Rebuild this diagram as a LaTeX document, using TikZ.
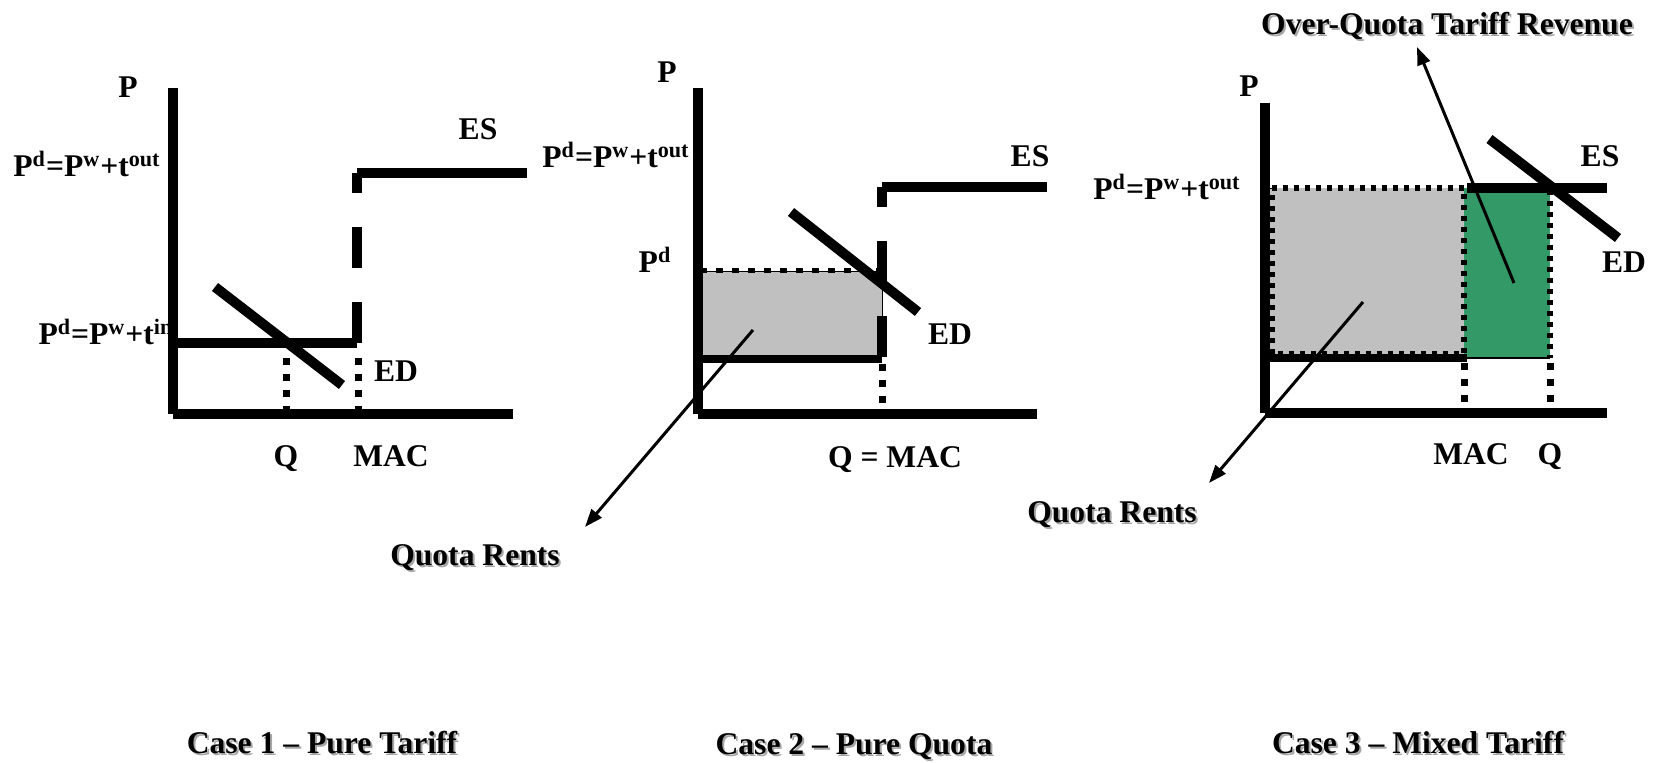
\documentclass[tikz,border=0pt]{standalone}
\usepackage{fontspec}
\setmainfont{Liberation Serif}
\usetikzlibrary{arrows.meta}
\definecolor{boxgray}{RGB}{192,192,192}
\definecolor{quotagreen}{RGB}{51,153,102}
\begin{document}
\begin{tikzpicture}[x=0.5pt,y=-0.5pt,
  lbl/.style={font=\fontsize{15.8}{19}\selectfont\bfseries, inner sep=0pt, anchor=base},
  shd/.style={lbl, text=black!35},
  axisline/.style={line width=5pt},
  curveline/.style={line width=5pt},
  quotaline/.style={line width=4pt},
  dashedv/.style={line width=5pt, dash pattern=on 20.5pt off 17pt},
  dottedv/.style={line width=3.5pt, dash pattern=on 3.5pt off 4.5pt},
  pointer/.style={line width=1.5pt, -{Triangle[length=9pt,width=6.5pt]}},
  boxdots/.style={line width=2.6pt, dash pattern=on 2.4pt off 3.1pt},
  topdots/.style={line width=2.5pt, dash pattern=on 3.5pt off 4.5pt},
]
\useasboundingbox (0,0) rectangle (1656,763);

% ---------------- Panel 1 ----------------
\coordinate (p1top) at (173,88);
\coordinate (p1org) at (173,414);
\coordinate (p1xend) at (513,414);
\coordinate (p1in) at (173,343);
\coordinate (p1mac) at (357,343);
\coordinate (p1esA) at (357,173);
\coordinate (p1esB) at (527,173);
\node[lbl] (p1Pin) at (106,345) {P\textsuperscript{d}=P\textsuperscript{w}+t\textsuperscript{in}};
\draw[axisline] (p1top) -- (p1org);
\draw[axisline] (p1org) -- (p1xend);
\draw[curveline] (p1in) -- (p1mac);
\draw[curveline] (p1esA) -- (p1esB);
\draw[dashedv] (p1mac) -- (p1esA);
\coordinate (p1qA) at (286,358); \coordinate (p1qB) at (286,410);
\coordinate (p1mA) at (358,358); \coordinate (p1mB) at (358,410);
\draw[dottedv] (p1qA) -- (p1qB);
\draw[dottedv] (p1mA) -- (p1mB);
\coordinate (p1edA) at (215,287); \coordinate (p1edB) at (342,385);
\draw[curveline] (p1edA) -- (p1edB);
\node[lbl] (p1P) at (128,98) {P};
\node[lbl] (p1Pout) at (87,177) {P\textsuperscript{d}=P\textsuperscript{w}+t\textsuperscript{out}};
\node[lbl] (p1ES) at (478,140) {ES};
\node[lbl] (p1ED) at (396,382) {ED};
\node[lbl] (p1Q) at (286,467) {Q};
\node[lbl] (p1MAC) at (391,467) {MAC};

% ---------------- Panel 2 ----------------
\fill[boxgray, draw=black, line width=0.5pt] (698,272) rectangle (882,357);
\coordinate (p2dotA) at (700,270.5); \coordinate (p2dotB) at (882,270.5);
\draw[topdots] (p2dotA) -- (p2dotB);
\coordinate (p2top) at (698,88);
\coordinate (p2org) at (698,414);
\coordinate (p2xend) at (1037,414);
\draw[axisline] (p2top) -- (p2org);
\draw[axisline] (p2org) -- (p2xend);
\coordinate (p2qL) at (698,359); \coordinate (p2qR) at (882,359);
\draw[quotaline] (p2qL) -- (p2qR);
\coordinate (p2dashB) at (882,357);
\coordinate (p2esA) at (882,187); \coordinate (p2esB) at (1047,187);
\draw[curveline] (p2esA) -- (p2esB);
\draw[dashedv] (p2dashB) -- (p2esA);
\coordinate (p2dA) at (882,364); \coordinate (p2dB) at (882,410);
\draw[dottedv] (p2dA) -- (p2dB);
\coordinate (p2edA) at (791,212); \coordinate (p2edB) at (918,312);
\draw[curveline] (p2edA) -- (p2edB);
\coordinate (p2arA) at (753,330); \coordinate (p2arB) at (585,527);
\draw[pointer] (p2arA) -- (p2arB);
\node[lbl] (p2P) at (667,83) {P};
\node[lbl] (p2Pout) at (616,168) {P\textsuperscript{d}=P\textsuperscript{w}+t\textsuperscript{out}};
\node[lbl] (p2ES) at (1030,167) {ES};
\node[lbl] (p2Pd) at (655,273) {P\textsuperscript{d}};
\node[lbl] (p2ED) at (950,345) {ED};
\node[lbl] (p2QM) at (895,468) {Q = MAC};
\node[shd] (p2QRs) at (477,568) {Quota Rents};
\node[lbl] (p2QR) at (475,566) {Quota Rents};

% ---------------- Panel 3 ----------------
\fill[boxgray] (1268,188) rectangle (1464,356);
\fill[quotagreen] (1464,188) rectangle (1550,358);
\coordinate (p3gbL) at (1464,358); \coordinate (p3gbR) at (1550,358);
\draw[line width=0.6pt] (p3gbL) -- (p3gbR);
\draw[boxdots] (1272,188) -- (1464,188) -- (1464,354) -- (1272,354) -- cycle;
\coordinate (p3grA) at (1550,190); \coordinate (p3grB) at (1550,358);
\draw[boxdots] (p3grA) -- (p3grB);
\coordinate (p3top) at (1265,103);
\coordinate (p3org) at (1265,413);
\coordinate (p3xend) at (1607,413);
\draw[axisline] (p3top) -- (p3org);
\draw[axisline] (p3org) -- (p3xend);
\coordinate (p3qL) at (1265,358); \coordinate (p3qR) at (1467,358);
\draw[quotaline] (p3qL) -- (p3qR);
\coordinate (p3esA) at (1467,188); \coordinate (p3esB) at (1607,188);
\draw[curveline] (p3esA) -- (p3esB);
\coordinate (p3d1A) at (1464,363); \coordinate (p3d1B) at (1464,410);
\coordinate (p3d2A) at (1550,363); \coordinate (p3d2B) at (1550,410);
\draw[dottedv] (p3d1A) -- (p3d1B);
\draw[dottedv] (p3d2A) -- (p3d2B);
\coordinate (p3edA) at (1489.5,139); \coordinate (p3edB) at (1618,238);
\draw[curveline] (p3edA) -- (p3edB);
\coordinate (p3arA) at (1363,302); \coordinate (p3arB) at (1209,483);
\draw[pointer] (p3arA) -- (p3arB);
\coordinate (p3orA) at (1514,283); \coordinate (p3orB) at (1417,47);
\draw[pointer] (p3orA) -- (p3orB);
\node[lbl] (p3P) at (1249,97) {P};
\node[lbl] (p3Pout) at (1167,200) {P\textsuperscript{d}=P\textsuperscript{w}+t\textsuperscript{out}};
\node[lbl] (p3ES) at (1600,167) {ES};
\node[lbl] (p3ED) at (1624,273) {ED};
\node[lbl] (p3MAC) at (1471,465) {MAC};
\node[lbl] (p3Q) at (1550,465) {Q};
\node[shd] (p3QRs) at (1114,525) {Quota Rents};
\node[lbl] (p3QR) at (1112,523) {Quota Rents};
\node[shd] (p3OQs) at (1449,37) {Over-Quota Tariff Revenue};
\node[lbl] (p3OQ) at (1447,35) {Over-Quota Tariff Revenue};

% ---------------- Case titles ----------------
\node[shd] (c1s) at (324,756) {Case 1 -- Pure Tariff};
\node[lbl] (c1) at (322,754) {Case 1 -- Pure Tariff};
\node[shd] (c2s) at (856,757) {Case 2 -- Pure Quota};
\node[lbl] (c2) at (854,755) {Case 2 -- Pure Quota};
\node[shd] (c3s) at (1420,756) {Case 3 -- Mixed Tariff};
\node[lbl] (c3) at (1418,754) {Case 3 -- Mixed Tariff};
\end{tikzpicture}
\end{document}
